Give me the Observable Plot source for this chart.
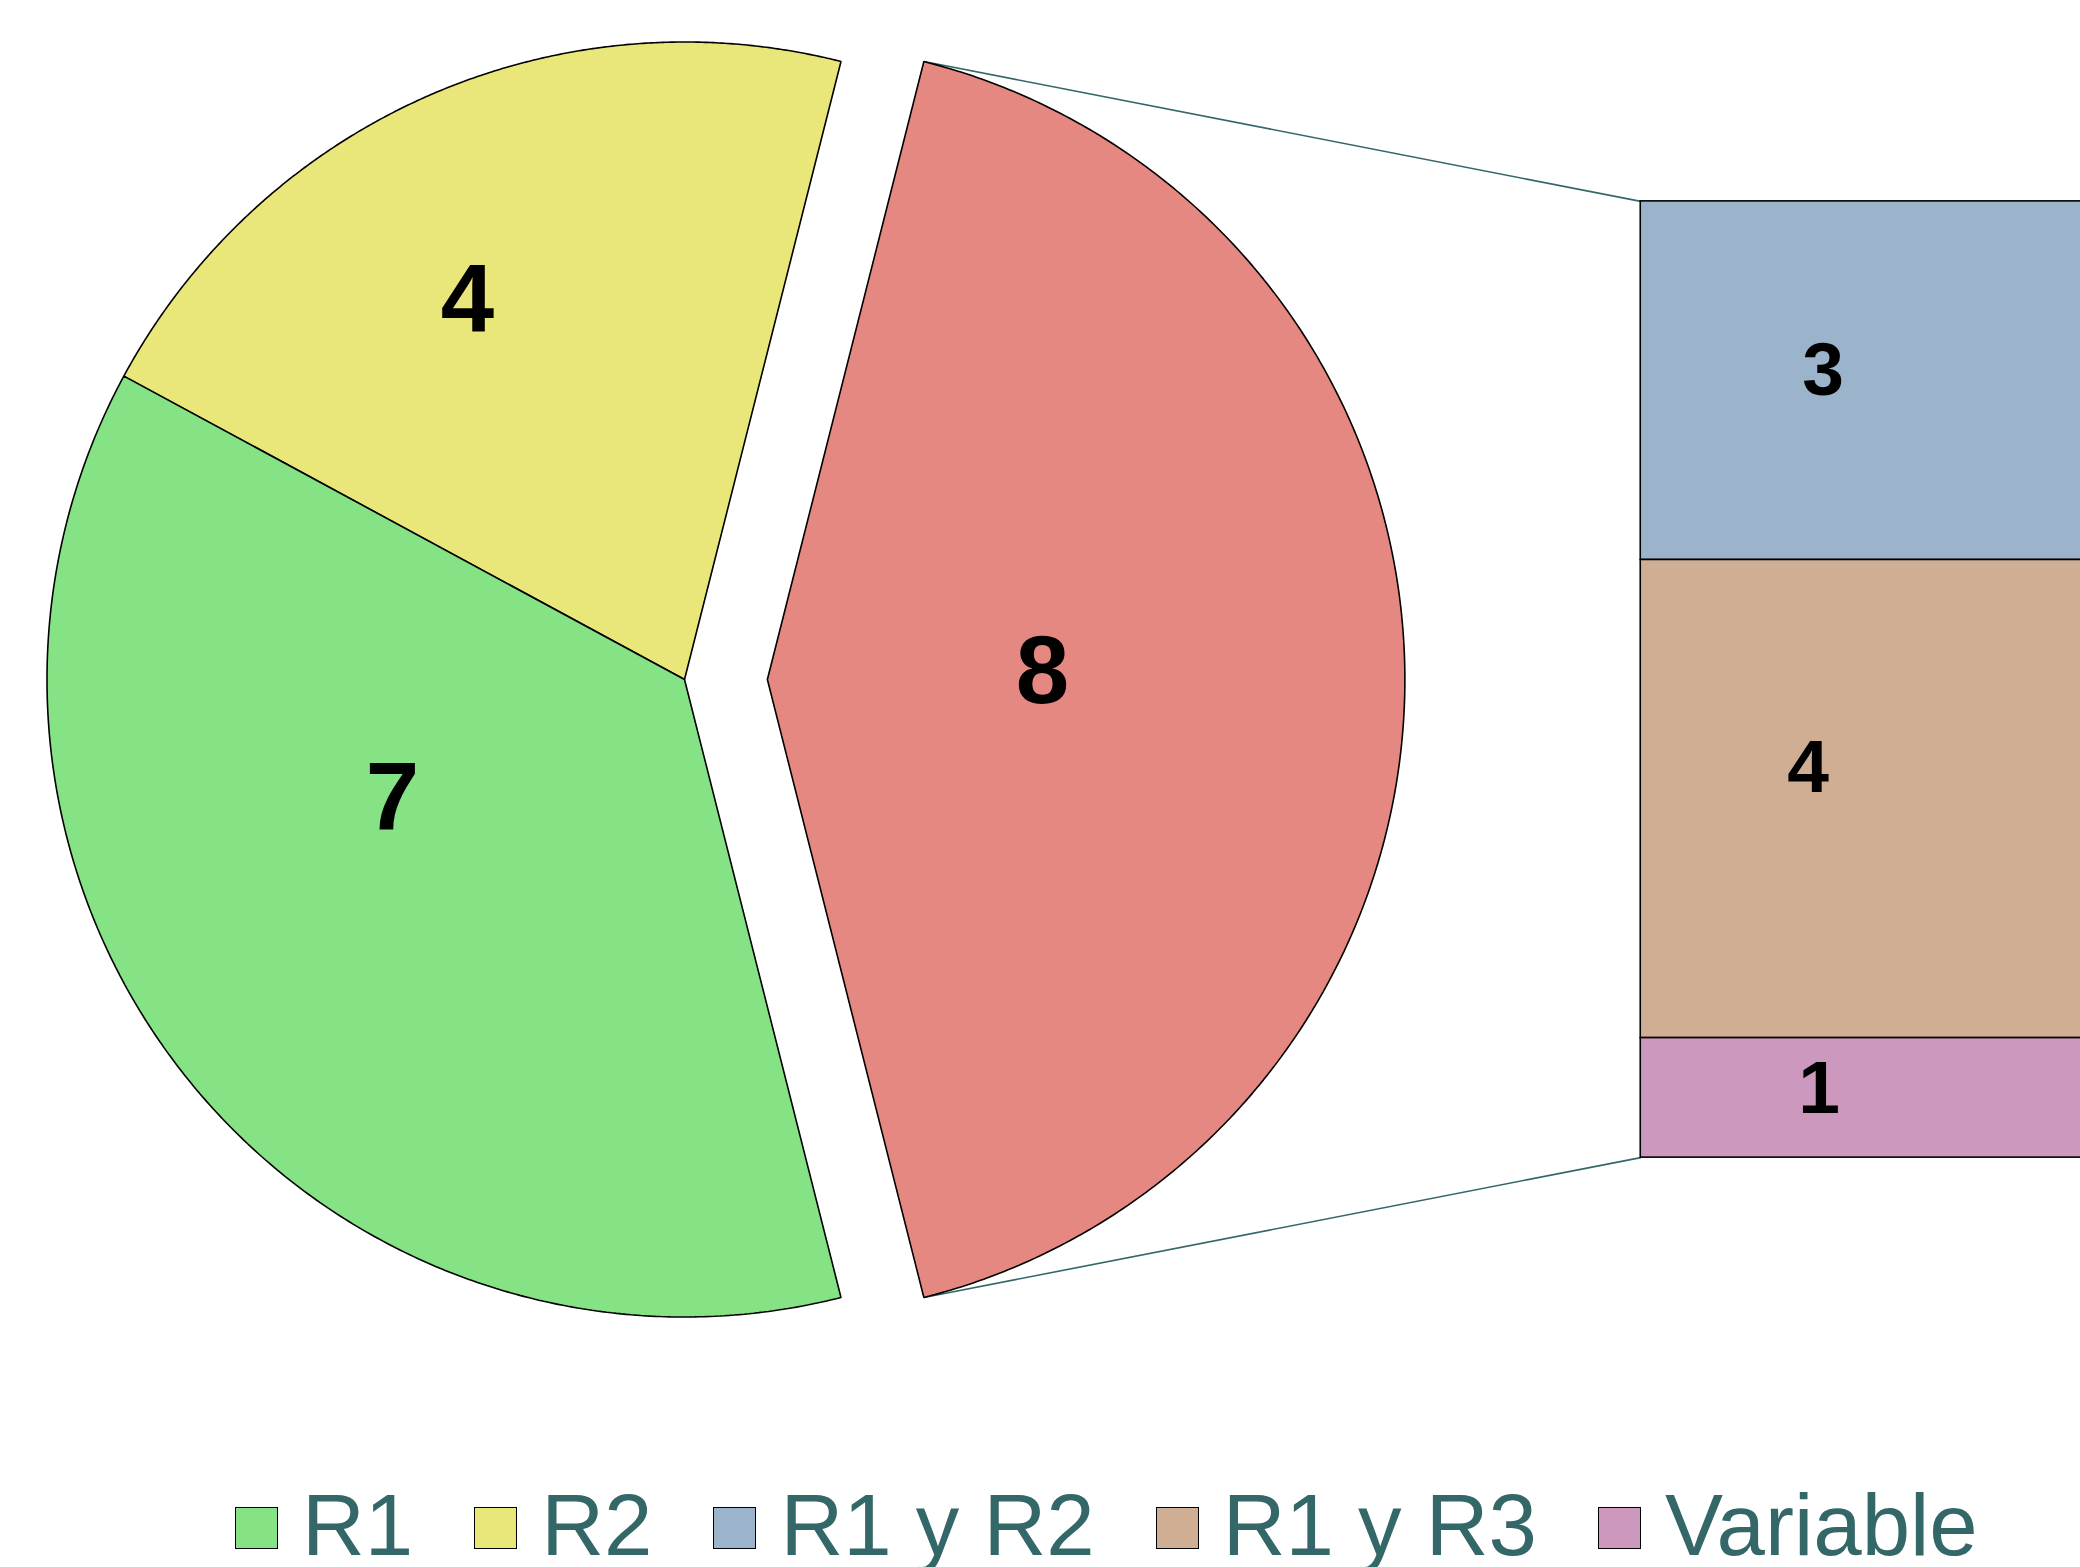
<!DOCTYPE html>
<html><head><meta charset="utf-8">
<script src="https://cdn.jsdelivr.net/npm/d3@7"></script>
<script src="https://cdn.jsdelivr.net/npm/@observablehq/plot@0.6"></script>
<style>
html,body{margin:0;padding:0;background:#fff;}
#wrap{width:2080px;height:1567px;position:relative;overflow:hidden;font-family:"Liberation Sans",Arial,sans-serif;}
#chart svg{display:block;}
#legend{position:relative;height:127px;}
#legend .row{position:absolute;left:235px;top:0;display:flex;align-items:flex-start;}
#legend .sw{box-sizing:border-box;width:43px;height:42px;border:1.5px solid #000;margin-top:67px;margin-right:24px;}
#legend .lb{font-size:87px;line-height:80px;margin-top:45px;margin-right:61px;color:#346868;white-space:nowrap;}
</style></head><body>
<div id="wrap"><div id="chart"></div><div id="legend"><div class="row" id="legrow"></div></div></div>
<script>
// ---------- data ----------
const pieNames  = ["Otros", "R2", "R1"];
const pieValues = [8, 4, 7];
const pieColors = ["#e58882", "#eae77a", "#85e385"];

const barNames  = ["R1 y R2", "R1 y R3", "Variable"];
const barValues = [3, 4, 1];
const barColors = ["#9bb4cb", "#cfae94", "#cd98be"];

const legendNames  = ["R1", "R2", "R1 y R2", "R1 y R3", "Variable"];
const legendColors = ["#85e385", "#eae77a", "#9bb4cb", "#cfae94", "#cd98be"];

// ---------- layout ----------
const W = 2080, H = 1440;
const explode = [0.13, 0, 0];
const labelSpots = [{r: 0.432, deg: 2.3}, {r: 0.689, deg: 119.6}, {r: 0.493, deg: 201.7}];
const barLabelNudge = [{dx: 7, dy: -10}, {dx: -8, dy: -31}, {dx: 3, dy: -9}];
const barX0 = 1.5, barX1 = 2.4, barHalf = 0.75, barLabelX = 1.775;
const lineColor = "#346868";

const rad = d => d * Math.PI / 180;
const total = d3.sum(pieValues);
const startDeg = -180 * pieValues[0] / total;

const slicePts = [];
const sliceInfo = [];
let cum = 0;
pieValues.forEach((v, i) => {
  const a0 = startDeg + cum / total * 360;
  const a1 = a0 + v / total * 360;
  cum += v;
  const mid = (a0 + a1) / 2;
  const ox = explode[i] * Math.cos(rad(mid)), oy = explode[i] * Math.sin(rad(mid));
  sliceInfo.push({a0, a1, ox, oy});
  const n = 300;
  slicePts.push({name: pieNames[i], color: pieColors[i], x: ox, y: oy});
  for (let k = 0; k <= n; k++) {
    const a = rad(a0 + (a1 - a0) * k / n);
    slicePts.push({name: pieNames[i], color: pieColors[i], x: ox + Math.cos(a), y: oy + Math.sin(a)});
  }
  slicePts.push({name: pieNames[i], color: pieColors[i], x: ox, y: oy});
});

const pieLabels = pieValues.map((v, i) => {
  const s = sliceInfo[i], p = labelSpots[i];
  return {text: String(v), x: s.ox + p.r * Math.cos(rad(p.deg)), y: s.oy + p.r * Math.sin(rad(p.deg))};
});

const barTotal = d3.sum(barValues);
let yTop = barHalf;
const barRects = barValues.map((v, i) => {
  const h = v / barTotal * 2 * barHalf;
  const r = {name: barNames[i], color: barColors[i], value: v, y1: yTop, y2: yTop - h};
  yTop -= h;
  return r;
});

const red = sliceInfo[0];
const links = [
  {x1: red.ox + Math.cos(rad(red.a1)), y1: red.oy + Math.sin(rad(red.a1)), x2: barX0, y2: barHalf},
  {x1: red.ox + Math.cos(rad(red.a0)), y1: red.oy + Math.sin(rad(red.a0)), x2: barX0, y2: -barHalf}
];

const R = 637.5, cx = 684, cy = 679;
const chart = Plot.plot({
  width: W, height: H, margin: 0,
  style: {fontFamily: '"Liberation Sans", Arial, sans-serif', background: "#fff"},
  x: {domain: [-cx / R, (W - cx) / R], axis: null},
  y: {domain: [-(H - cy) / R, cy / R], axis: null},
  marks: [
    Plot.link(links, {x1: "x1", y1: "y1", x2: "x2", y2: "y2", stroke: lineColor, strokeWidth: 1.6}),
    Plot.line(slicePts, {x: "x", y: "y", z: "name", fill: "color", stroke: "#000", strokeWidth: 1.6, curve: "linear", strokeLinejoin: "miter"}),
    Plot.rect(barRects, {x1: barX0, x2: barX1, y1: "y1", y2: "y2", fill: "color", stroke: "#000", strokeWidth: 1.6, clip: true}),
    Plot.text(pieLabels, {x: "x", y: "y", text: "text", dy: 4, fontSize: 96, fontWeight: "bold", fill: "#000"}),
    ...barRects.map((d, i) => Plot.text([d], {x: barLabelX, y: d => (d.y1 + d.y2) / 2, text: d => String(d.value), dx: barLabelNudge[i].dx, dy: barLabelNudge[i].dy, fontSize: 75, fontWeight: "bold", fill: "#000"}))
  ]
});
document.getElementById("chart").appendChild(chart);

const row = document.getElementById("legrow");
legendNames.forEach((n, i) => {
  const sw = document.createElement("div");
  sw.className = "sw"; sw.style.background = legendColors[i];
  const lb = document.createElement("div");
  lb.className = "lb"; lb.textContent = n;
  row.appendChild(sw); row.appendChild(lb);
});
</script>
</body></html>
